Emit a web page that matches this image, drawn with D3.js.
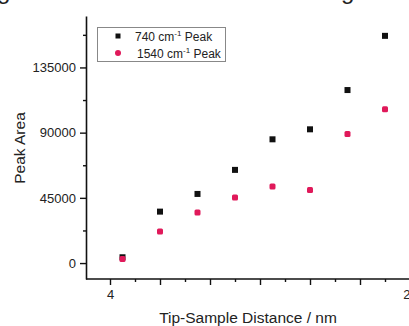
<!DOCTYPE html>
<html>
<head>
<meta charset="utf-8">
<script src="https://cdn.jsdelivr.net/npm/d3@7"></script>
<style>
  html, body { margin: 0; padding: 0; background: #fff; }
  svg { display: block; font-family: "Liberation Sans", Arial, sans-serif; }
</style>
</head>
<body>
<svg id="chart" width="409" height="326"></svg>
<script>
// ---- data ----
const distances = [5, 8, 11, 14, 17, 20, 23, 26];
const peak740 = [4000, 35500, 47700, 64300, 85400, 92300, 119400, 156800];
const peak1540 = [2800, 21800, 34900, 45200, 52800, 50500, 89100, 106100];
const seriesNames = ["740", "1540"];
const yMajorTicks = [0, 45000, 90000, 135000];
const yMinorTicks = [22500, 67500, 112500, 157500];
const xMajorTicks = [4, 8, 12, 16, 20, 24, 28];
const xMinorTicks = [6, 10, 14, 18, 22, 26];
const xLabelledTicks = [4, 28];

const black = "#111";
const red = "#e0195a";

const svg = d3.select("#chart");

const x = d3.scaleLinear().domain([2, 30]).range([85, 435]);
const y = d3.scaleLinear().domain([-11000, 170500]).range([279, 16]);

// cropped title fragments at top
svg.append("text").attr("x", -3).attr("y", -1).attr("font-size", 24).attr("fill", "#222").text("g");
svg.append("text").attr("x", 341).attr("y", -1).attr("font-size", 24).attr("fill", "#222").text("g");

// y axis
const yAxis = svg.append("g").attr("transform", "translate(86,0)")
  .call(d3.axisLeft(y).tickValues(yMajorTicks).tickSize(6).tickSizeOuter(0).tickPadding(4)
    .tickFormat(d3.format("d")));
yAxis.select(".domain").attr("stroke", black).attr("stroke-width", 1.6);
yAxis.selectAll(".tick line").attr("stroke", black).attr("stroke-width", 1.4);
yAxis.selectAll(".tick text").attr("font-size", 13).attr("fill", "#222")
  .attr("font-family", "Liberation Sans, Arial, sans-serif");
const yMinor = svg.append("g").attr("transform", "translate(86,0)")
  .call(d3.axisLeft(y).tickValues(yMinorTicks).tickSize(3).tickSizeOuter(0).tickFormat(""));
yMinor.select(".domain").remove();
yMinor.selectAll(".tick line").attr("stroke", black).attr("stroke-width", 1.4);

// x axis
const xAxis = svg.append("g").attr("transform", "translate(0,279)")
  .call(d3.axisBottom(x).tickValues(xMajorTicks).tickSize(6).tickSizeOuter(0).tickPadding(5)
    .tickFormat(d => xLabelledTicks.includes(d) ? d : ""));
xAxis.select(".domain").attr("stroke", black).attr("stroke-width", 1.6)
  .attr("d", `M86,0H409`);
xAxis.selectAll(".tick line").attr("stroke", black).attr("stroke-width", 1.4);
xAxis.selectAll(".tick text").attr("font-size", 13).attr("fill", "#222")
  .attr("font-family", "Liberation Sans, Arial, sans-serif");
const xMinor = svg.append("g").attr("transform", "translate(0,279)")
  .call(d3.axisBottom(x).tickValues(xMinorTicks).tickSize(3).tickSizeOuter(0).tickFormat(""));
xMinor.select(".domain").remove();
xMinor.selectAll(".tick line").attr("stroke", black).attr("stroke-width", 1.4);

// axis titles
svg.append("text").attr("x", 248).attr("y", 323).attr("text-anchor", "middle")
  .attr("font-size", 15.5).attr("fill", "#222").text("Tip-Sample Distance / nm");
svg.append("text").attr("transform", "translate(25,148) rotate(-90)").attr("text-anchor", "middle")
  .attr("font-size", 15.5).attr("fill", "#222").text("Peak Area");

// data points
const ms = 6;
svg.append("g").selectAll("rect").data(distances.map((d, i) => [d, peak740[i]])).join("rect")
  .attr("x", d => x(d[0]) - ms / 2).attr("y", d => y(d[1]) - ms / 2)
  .attr("width", ms).attr("height", ms).attr("fill", black);
svg.append("g").selectAll("rect").data(distances.map((d, i) => [d, peak1540[i]])).join("rect")
  .attr("x", d => x(d[0]) - ms / 2).attr("y", d => y(d[1]) - ms / 2)
  .attr("width", ms).attr("height", ms).attr("rx", 1.5).attr("fill", red);

// legend
const lg = svg.append("g");
lg.append("rect").attr("x", 97.5).attr("y", 27.5).attr("width", 128).attr("height", 34)
  .attr("fill", "#fff").attr("stroke", "#888").attr("stroke-width", 1);
lg.append("rect").attr("x", 115.5).attr("y", 33.5).attr("width", 5).attr("height", 5).attr("fill", black);
lg.append("circle").attr("cx", 118).attr("cy", 53).attr("r", 3).attr("fill", red);
seriesNames.forEach((name, i) => {
  const t = lg.append("text").attr("x", i === 0 ? 135 : 137).attr("y", 40.5 + i * 17)
    .attr("font-size", 12).attr("fill", "#222");
  t.append("tspan").text(name + " cm");
  t.append("tspan").attr("font-size", 8).attr("dy", -5).text("-1");
  t.append("tspan").attr("dy", 5).text(" Peak");
});
</script>
</body>
</html>
